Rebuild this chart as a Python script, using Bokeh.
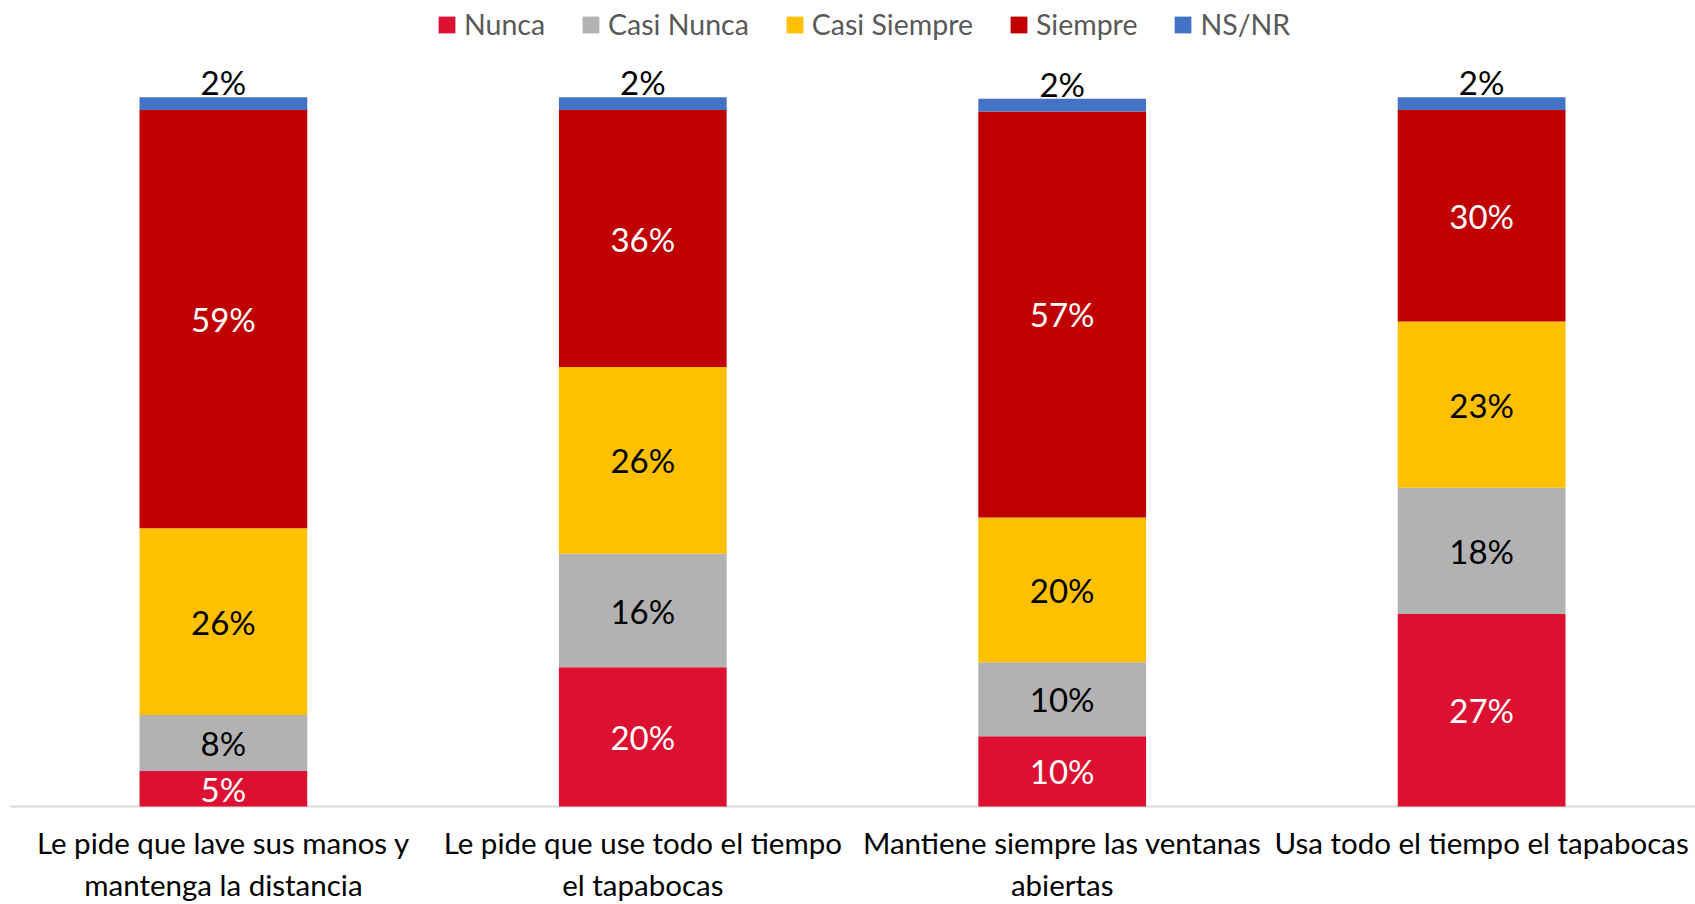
from bokeh.plotting import figure
from bokeh.models import ColumnDataSource, Legend, LegendItem, FactorRange, Range1d, Span
from bokeh.core.properties import value
from bokeh.embed import file_html
from bokeh.resources import INLINE

categories = [
    "Le pide que lave sus manos y\nmantenga la distancia",
    "Le pide que use todo el tiempo\nel tapabocas",
    "Mantiene siempre las ventanas\nabiertas",
    "Usa todo el tiempo el tapabocas",
]
series = ["Nunca", "Casi Nunca", "Casi Siempre", "Siempre", "NS/NR"]
nunca = [5.0, 19.6, 9.9, 27.1]
casi_nunca = [7.9, 16.0, 10.4, 17.8]
casi_siempre = [26.3, 26.3, 20.4, 23.4]
siempre = [58.9, 36.2, 57.2, 29.8]
ns_nr = [1.8, 1.8, 1.8, 1.8]

colors = ["#DC1030", "#B2B2B2", "#FFC000", "#C00000", "#4472C4"]
label_colors = ["white", "black", "black", "white", "black"]
FONT = "Lato"

all_series = [nunca, casi_nunca, casi_siempre, siempre, ns_nr]
keys = ["s0", "s1", "s2", "s3", "s4"]
data = {"cat": categories}
for k, vals in zip(keys, all_series):
    data[k] = vals
src = ColumnDataSource(data)

W, H = 1695, 904
PX_PER_UNIT = 7.1
Y0_FROM_BOTTOM = 98
p = figure(width=W, height=H,
           x_range=FactorRange(*categories, range_padding=0.01, range_padding_units="absolute"),
           y_range=Range1d(-Y0_FROM_BOTTOM / PX_PER_UNIT, (H - Y0_FROM_BOTTOM) / PX_PER_UNIT),
           output_backend="svg", toolbar_location=None, min_border=0, min_border_left=9)
p.outline_line_color = None
p.grid.visible = False
p.axis.visible = False
p.background_fill_color = "white"
p.border_fill_color = "white"

p.add_layout(Span(location=0, dimension="width", line_color="#D9D9D9", line_width=2, level="underlay"))

rs = p.vbar_stack(keys, x="cat", width=0.4, source=src, color=colors, line_color=None)

# segment labels
mx, my, mt, mc = [], [], [], []
tx, ty, tt = [], [], []
for i, c in enumerate(categories):
    base = 0.0
    for j, vals in enumerate(all_series):
        v = vals[i]
        if j < len(all_series) - 1:
            mx.append(c); my.append(base + v / 2); mt.append(f"{round(v)}%"); mc.append(label_colors[j])
        base += v
    tx.append(c); ty.append(base); tt.append(f"{round(ns_nr[i])}%")
src_mid = ColumnDataSource(dict(x=mx, y=my, t=mt, c=mc))
src_top = ColumnDataSource(dict(x=tx, y=ty, t=tt))
p.text(x="x", y="y", text="t", text_color="c", source=src_mid, text_align="center",
       text_baseline="middle", text_font=value(FONT), text_font_size="33px")
p.text(x="x", y="y", text="t", text_color="black", source=src_top, text_align="center",
       text_baseline="bottom", y_offset=5, text_font=value(FONT), text_font_size="33px")

# category labels under the baseline
src_cat = ColumnDataSource(dict(x=categories, y=[-18.5 / PX_PER_UNIT] * len(categories), t=categories))
p.text(x="x", y="y", text="t", source=src_cat, text_align="center", text_baseline="top",
       text_color="black", text_font=value(FONT), text_font_size="29.5px", text_line_height=1.2)

legend = Legend(items=[LegendItem(label=s, renderers=[r]) for s, r in zip(series, rs)],
                orientation="horizontal", location=(427, H - 41),
                glyph_width=21, glyph_height=21, label_standoff=7, spacing=35,
                label_text_font=FONT, label_text_font_size="28.5px", label_text_color="#595959",
                border_line_color=None, background_fill_alpha=0, padding=0, margin=0)
p.add_layout(legend, "center")

open("out.html", "w").write(file_html(p, INLINE))
